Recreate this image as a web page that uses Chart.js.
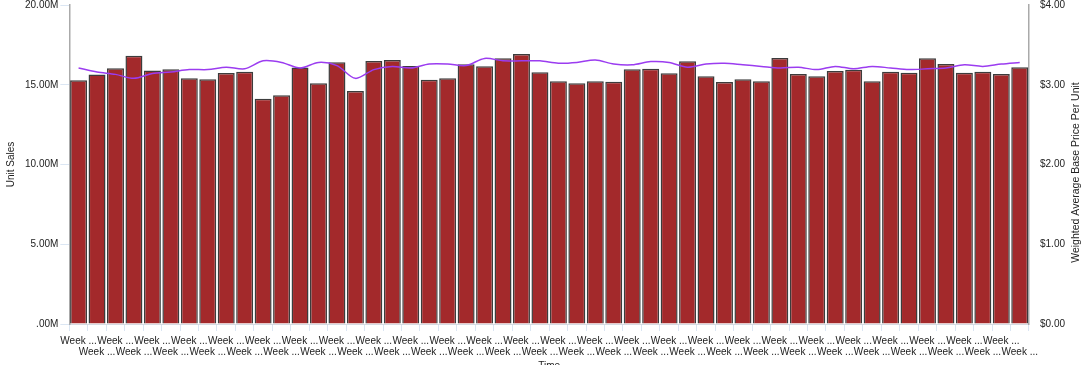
<!DOCTYPE html>
<html>
<head>
<meta charset="utf-8">
<script src="https://cdn.jsdelivr.net/npm/chart.js@4/dist/chart.umd.min.js"></script>
<style>
  html, body { margin: 0; padding: 0; background: #fff; overflow: hidden; }
  #wrap { width: 1092px; height: 371px; margin-top: -4px; }
</style>
</head>
<body>
<div id="wrap"><canvas id="salesChart"></canvas></div>
<script>
// weeks (labels are truncated in the source)
const weeks = [
  "Week ...", "Week ...", "Week ...", "Week ...", "Week ...", "Week ...", "Week ...", "Week ...", "Week ...", "Week ...",
  "Week ...", "Week ...", "Week ...", "Week ...", "Week ...", "Week ...", "Week ...", "Week ...", "Week ...", "Week ...",
  "Week ...", "Week ...", "Week ...", "Week ...", "Week ...", "Week ...", "Week ...", "Week ...", "Week ...", "Week ...",
  "Week ...", "Week ...", "Week ...", "Week ...", "Week ...", "Week ...", "Week ...", "Week ...", "Week ...", "Week ...",
  "Week ...", "Week ...", "Week ...", "Week ...", "Week ...", "Week ...", "Week ...", "Week ...", "Week ...", "Week ...",
  "Week ...", "Week ..."
];

// unit sales, millions
const unitSales = [
  15.28, 15.65, 16.03, 16.82, 15.90, 15.97, 15.40, 15.34, 15.74, 15.82,
  14.13, 14.34, 16.08, 15.09, 16.41, 14.61, 16.49, 16.55, 16.18, 15.32,
  15.40, 16.28, 16.16, 16.66, 16.93, 15.78, 15.22, 15.09, 15.22, 15.19,
  15.97, 16.01, 15.72, 16.47, 15.53, 15.17, 15.34, 15.22, 16.68, 15.67,
  15.53, 15.86, 15.94, 15.22, 15.82, 15.76, 16.66, 16.30, 15.76, 15.82,
  15.67, 16.09
];

// weighted average base price per unit, $
const avgPrice = [
  3.21, 3.16, 3.13, 3.08, 3.14, 3.16, 3.19, 3.19, 3.22, 3.20,
  3.30, 3.28, 3.21, 3.28, 3.24, 3.08, 3.19, 3.23, 3.21, 3.26,
  3.26, 3.24, 3.33, 3.30, 3.30, 3.30, 3.27, 3.28, 3.31, 3.26,
  3.25, 3.29, 3.28, 3.22, 3.26, 3.27, 3.25, 3.23, 3.21, 3.22,
  3.19, 3.23, 3.20, 3.23, 3.21, 3.19, 3.20, 3.21, 3.25, 3.23,
  3.26, 3.28
];

const salesTicks = [0, 5, 10, 15, 20];
const priceTicks = [0, 1, 2, 3, 4];
const rightTitle = "Weighted Average Base Price Per Unit";

// staggered two-row labels
const staggered = weeks.map((w, i) => i % 2 === 0 ? [w, ""] : ["", w]);

const font = { family: "Liberation Sans, Arial, sans-serif", size: 10 };

// right axis title reads bottom-to-top like the left one
const rightTitlePlugin = {
  id: "rightTitle",
  afterDraw(chart) {
    const { ctx, chartArea } = chart;
    ctx.save();
    ctx.translate(1076, (chartArea.top + chartArea.bottom) / 2 + 8);
    ctx.rotate(-Math.PI / 2);
    ctx.font = "10.5px Liberation Sans, Arial, sans-serif";
    ctx.fillStyle = "#222";
    ctx.textAlign = "center";
    ctx.textBaseline = "middle";
    ctx.fillText(rightTitle, 0, 0);
    ctx.restore();
  }
};

new Chart(document.getElementById("salesChart"), {
  type: "bar",
  data: {
    labels: staggered,
    datasets: [
      {
        type: "line",
        label: rightTitle,
        data: avgPrice,
        yAxisID: "y1",
        borderColor: "#9b3cf0",
        borderWidth: 1.5,
        pointRadius: 0,
        tension: 0.3,
        fill: false,
        order: 0
      },
      {
        label: "Unit Sales",
        data: unitSales,
        yAxisID: "y",
        backgroundColor: "#a3292b",
        borderColor: "#3c3c3c",
        borderWidth: 1.5,
        categoryPercentage: 1,
        barPercentage: 0.92,
        order: 1
      }
    ]
  },
  options: {
    responsive: true,
    maintainAspectRatio: false,
    animation: false,
    layout: { padding: { top: -5, left: 5, right: 24, bottom: -9 } },
    plugins: { legend: { display: false }, tooltip: { enabled: false } },
    scales: {
      x: {
        grid: { display: true, drawOnChartArea: false, offset: true, tickLength: 7, color: "#dbe6f3" },
        border: { display: true, color: "#d5dbe3" },
        ticks: { color: "#222", font: { ...font, lineHeight: 1.1 }, autoSkip: false, maxRotation: 0, minRotation: 0, padding: 5 },
        title: { display: true, text: "Time", color: "#222", font, padding: { top: -3, bottom: 4 } }
      },
      y: {
        position: "left",
        min: 0,
        max: 20,
        afterBuildTicks: (axis) => { axis.ticks = salesTicks.map(v => ({ value: v })); },
        grid: { display: true, drawOnChartArea: false, tickLength: 9, color: "#dbe6f3" },
        border: { display: true, color: "#aaaaaa", width: 1.5 },
        ticks: { color: "#222", font, padding: 2, callback: v => (v === 0 ? "" : v) + ".00M" },
        title: { display: true, text: "Unit Sales", color: "#222", font, padding: { top: 0, bottom: 6 } }
      },
      y1: {
        position: "right",
        min: 0,
        max: 4,
        afterBuildTicks: (axis) => { axis.ticks = priceTicks.map(v => ({ value: v })); },
        grid: { display: false },
        border: { display: true, color: "#aaaaaa", width: 1.5 },
        ticks: { color: "#222", font, padding: 3, callback: v => "$" + v.toFixed(2) }
      }
    }
  },
  plugins: [rightTitlePlugin]
});
</script>
</body>
</html>
